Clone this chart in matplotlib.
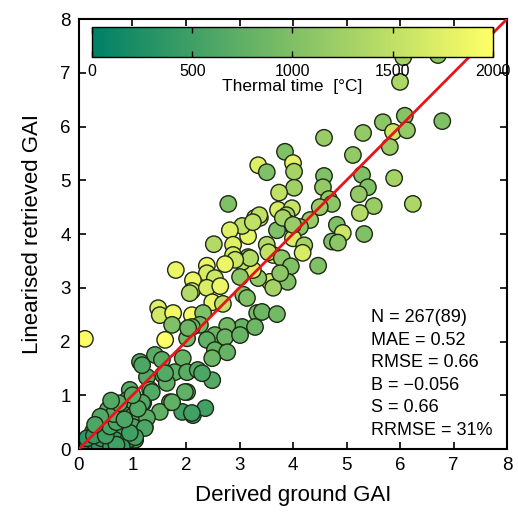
"""
Ground-derived vs linearised retrieved GAI, coloured by thermal time.
"""

import matplotlib

matplotlib.use("Agg")

import matplotlib.pyplot as plt
import numpy as np

plt.rcParams["font.family"] = ["Liberation Sans", "DejaVu Sans"]

# (ground GAI, retrieved GAI, thermal time in degC)
pontos = [
    (6.06, 7.29, 1300), (6.71, 7.33, 1100), (6.00, 6.83, 1350),
    (6.09, 6.20, 1050), (5.68, 6.08, 1100), (6.79, 6.10, 1000),
    (5.87, 5.90, 1600), (6.13, 5.93, 1150), (5.31, 5.88, 1150),
    (4.58, 5.79, 1200), (5.81, 5.62, 1200), (5.12, 5.47, 1150),
    (3.85, 5.53, 1000), (3.35, 5.28, 1750), (3.51, 5.15, 1000),
    (4.00, 5.32, 1800), (4.02, 5.16, 1300), (4.02, 4.86, 1250),
    (4.58, 5.08, 1000), (4.56, 4.87, 1150), (5.29, 5.10, 1000),
    (5.40, 4.87, 1000), (5.23, 4.74, 1150), (5.89, 5.04, 1300),
    (6.24, 4.56, 1350), (5.51, 4.52, 1200), (5.25, 4.39, 1400),
    (5.33, 4.00, 1000), (4.67, 4.65, 1150), (4.73, 4.56, 1100),
    (4.50, 4.50, 1200), (4.32, 4.26, 1200), (4.82, 4.17, 1000),
    (4.93, 4.02, 1600), (4.73, 3.86, 1000), (4.84, 3.84, 1100),
    (4.47, 3.41, 1000), (3.74, 4.77, 1500), (3.72, 4.45, 1700),
    (3.98, 4.48, 1550), (3.88, 4.35, 1300), (3.94, 4.19, 1300),
    (4.13, 4.13, 1100), (3.70, 4.07, 1000), (4.00, 3.92, 1700),
    (4.21, 3.79, 1300), (4.18, 3.65, 1700), (3.63, 3.61, 1800),
    (3.51, 3.80, 1400), (3.54, 3.66, 1500), (3.79, 3.55, 1100),
    (3.96, 3.40, 1000), (3.90, 3.11, 1000), (3.57, 3.11, 1700),
    (3.63, 3.00, 1300), (3.76, 3.27, 1100), (3.35, 3.18, 1150),
    (3.25, 3.33, 1750), (3.16, 3.57, 1300), (3.05, 3.48, 1500),
    (3.01, 3.20, 1100), (3.16, 3.96, 1800), (3.05, 4.15, 1500),
    (2.82, 4.07, 1750), (2.79, 4.56, 1000), (3.29, 4.30, 1600),
    (3.38, 4.30, 1800), (3.37, 4.35, 1500), (3.81, 4.30, 1300),
    (4.00, 4.17, 1200), (3.25, 4.22, 1500), (3.20, 3.55, 1400),
    (2.88, 3.80, 1750), (2.88, 3.61, 1700), (2.92, 3.52, 1600),
    (2.52, 3.81, 1400), (2.73, 3.44, 1850), (2.39, 3.41, 1850),
    (2.39, 3.27, 1700), (2.54, 3.18, 1600), (1.81, 3.33, 1850),
    (2.13, 3.14, 1850), (2.11, 2.94, 1800), (2.39, 3.00, 1700),
    (2.64, 3.03, 1850), (3.07, 2.87, 1100),
    (0.11, 2.05, 2000), (1.48, 2.62, 1750), (1.51, 2.49, 1650),
    (1.76, 2.53, 1900), (1.74, 2.31, 1000), (2.11, 2.49, 1950),
    (2.07, 2.90, 1400), (2.49, 2.73, 1850), (2.69, 2.70, 1500),
    (2.32, 2.53, 1000), (2.26, 2.31, 900), (2.11, 2.27, 800),
    (1.61, 2.03, 2000), (3.14, 2.81, 1000), (3.33, 2.53, 900),
    (3.42, 2.55, 850), (3.70, 2.51, 900), (3.05, 2.27, 800),
    (3.29, 2.27, 850), (2.77, 2.29, 900), (2.54, 2.12, 850),
    (2.73, 2.08, 850), (3.01, 2.12, 800), (2.39, 2.03, 750),
    (2.54, 1.84, 800), (2.77, 1.80, 800), (2.02, 2.06, 900),
    (1.94, 1.69, 800), (2.49, 1.69, 850), (1.42, 1.75, 700),
    (1.55, 1.66, 700), (1.14, 1.62, 650), (1.79, 1.43, 750),
    (2.02, 1.43, 700), (2.22, 1.47, 650), (2.49, 1.28, 650),
    (1.57, 1.38, 700), (1.27, 1.34, 650), (1.64, 1.23, 750),
    (2.02, 1.06, 800), (1.33, 1.10, 800), (0.95, 1.10, 700),
    (1.70, 0.87, 800), (1.51, 0.69, 750), (1.20, 0.86, 800),
    (1.93, 0.69, 500), (2.13, 0.63, 550), (2.36, 0.76, 500),
    (1.23, 0.41, 650), (0.54, 0.73, 700), (0.80, 0.41, 700),
    (1.05, 0.17, 500), (1.18, 1.56, 600), (1.61, 1.41, 650),
    (2.30, 1.41, 600), (1.36, 1.06, 650), (1.98, 1.06, 750),
    (0.90, 0.91, 700), (1.18, 0.86, 650), (1.74, 0.87, 750),
    (2.11, 0.67, 500), (0.80, 0.67, 600), (0.99, 0.60, 650),
    (1.27, 0.58, 700), (0.54, 0.54, 600), (0.45, 0.41, 550),
    (0.64, 0.32, 500), (0.82, 0.39, 550), (1.01, 0.41, 600),
    (1.23, 0.39, 600), (0.26, 0.32, 450), (0.34, 0.17, 400),
    (0.17, 0.13, 350), (0.67, 0.17, 450), (0.92, 0.17, 500),
    (1.05, 0.22, 550), (0.06, 0.04, 250), (0.49, 0.07, 400),
    (0.80, 0.04, 450), (2.04, 2.25, 850),
    (0.00, 0.00, 150), (0.03, 0.06, 200), (0.08, 0.02, 250),
    (0.12, 0.07, 300), (0.20, 0.04, 300), (0.25, 0.10, 350),
    (0.30, 0.03, 350), (0.38, 0.08, 400), (0.42, 0.20, 450),
    (0.60, 0.05, 450), (0.70, 0.08, 500), (0.05, 0.12, 200),
    (0.15, 0.20, 350), (0.28, 0.25, 400), (0.50, 0.25, 500),
    (0.58, 0.42, 550), (0.70, 0.50, 600), (0.65, 0.65, 650),
    (0.40, 0.60, 650), (0.30, 0.45, 600), (0.95, 0.30, 500),
    (0.85, 0.55, 600), (1.10, 0.75, 650), (0.75, 0.85, 700),
    (1.00, 1.00, 700), (0.60, 0.90, 650),
]

gai_terreno = [p[0] for p in pontos]
gai_estimado = [p[1] for p in pontos]
tempo_termico = [p[2] for p in pontos]

estatisticas = [
    "N = 267(89)",
    "MAE = 0.52",
    "RMSE = 0.66",
    "B = \u22120.056",
    "S = 0.66",
    "RRMSE = 31%",
]

fig = plt.figure(figsize=(5.18, 5.18), dpi=100)
ax = fig.add_axes([0.1525, 0.1332, 0.8263, 0.8301])

pts = ax.scatter(
    gai_terreno,
    gai_estimado,
    c=tempo_termico,
    cmap="summer",
    vmin=0,
    vmax=2000,
    s=140,
    edgecolors="#1e2a14",
    linewidths=1.0,
    zorder=2,
)

ax.plot([0, 8], [0, 8], color="#e8141a", lw=2, zorder=3)

ax.set_xlim(0, 8)
ax.set_ylim(0, 8)
ax.set_xticks(range(9))
ax.set_yticks(range(9))
ax.tick_params(
    direction="in",
    top=True,
    right=True,
    length=5,
    width=1.2,
    labelsize=13.5,
    pad=6,
)
for lado in ax.spines.values():
    lado.set_linewidth(1.5)

ax.set_xlabel("Derived ground GAI", fontsize=16, labelpad=8)
ax.set_ylabel("Linearised retrieved GAI", fontsize=16, labelpad=12)

ax.text(
    5.45,
    2.6,
    "\n".join(estatisticas),
    fontsize=13,
    va="top",
    ha="left",
    linespacing=1.42,
    zorder=4,
)

# barra de cores dentro do painel
cax = fig.add_axes([0.1776, 0.890, 0.774, 0.058])
cb = fig.colorbar(pts, cax=cax, orientation="horizontal")
cb.set_ticks([0, 500, 1000, 1500, 2000])
cb.ax.tick_params(
    direction="in",
    top=True,
    bottom=True,
    length=4,
    width=1,
    labelsize=11.5,
    pad=5,
)
cb.outline.set_linewidth(1)
cb.set_label("Thermal time  [\u00b0C]", fontsize=12.5, labelpad=0)

plt.savefig("out.png", dpi=100)
plt.close()
